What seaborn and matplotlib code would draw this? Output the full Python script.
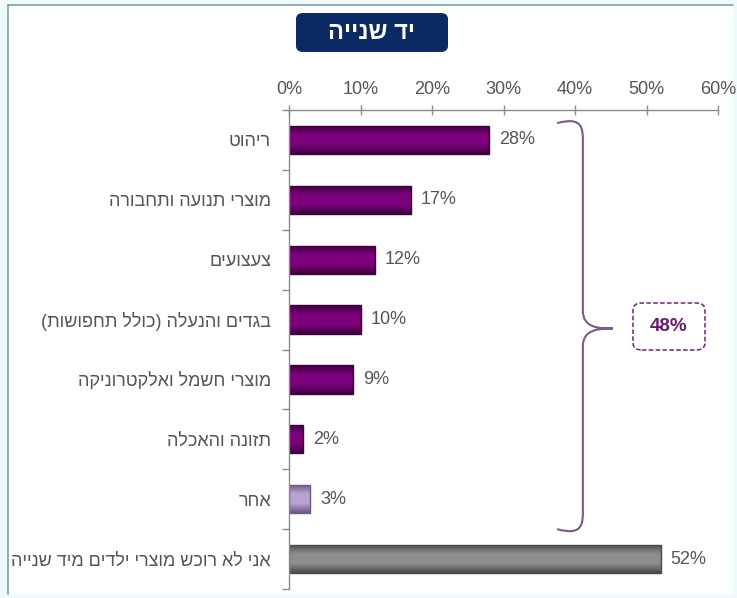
import numpy as np
import pandas as pd
import matplotlib
matplotlib.use("Agg")
import matplotlib.pyplot as plt
import seaborn as sns
from matplotlib.patches import FancyBboxPatch, Rectangle, PathPatch
from matplotlib.path import Path
from matplotlib.lines import Line2D
from matplotlib.colors import LinearSegmentedColormap

# --- data -------------------------------------------------------------
title = "יד שנייה"
categories = [
    "ריהוט",
    "מוצרי תנועה ותחבורה",
    "צעצועים",
    "בגדים והנעלה (כולל תחפושות)",
    "מוצרי חשמל ואלקטרוניקה",
    "תזונה והאכלה",
    "אחר",
    "אני לא רוכש מוצרי ילדים מיד שנייה",
]
values = [28, 17, 12, 10, 9, 2, 3, 52]
x_ticks = [0, 10, 20, 30, 40, 50, 60]
buyers_share = 100 - values[-1]   # everyone who does buy second-hand

# --- styling ----------------------------------------------------------
sns.set_theme(style="white")
plt.rcParams["font.family"] = ["Liberation Sans", "DejaVu Sans"]

PURPLE = ("#3e003e", "#7c007c")
LAVENDER = ("#6f5688", "#b9a3d3")
GREY = ("#4a4a4a", "#8e8e8e")
bar_styles = [PURPLE] * 6 + [LAVENDER, GREY]
TXT = "#555555"


def visual(s):
    """Hebrew is right-to-left: reverse for left-to-right rendering."""
    mirror = {"(": ")", ")": "("}
    return "".join(mirror.get(c, c) for c in reversed(s))


W, H = 737, 598
fig = plt.figure(figsize=(W / 100, H / 100), dpi=100, facecolor="#eefafc")

# page frame
fig.patches.append(Rectangle((8 / W, 1 - 594 / H), (733 - 8) / W, (594 - 5) / H,
                             transform=fig.transFigure, facecolor="white",
                             edgecolor="none", zorder=-10))
fig.lines.append(Line2D([8 / W, 733 / W], [1 - 5 / H] * 2, transform=fig.transFigure,
                        color="#7f9fae", lw=1.2, zorder=-9))
fig.lines.append(Line2D([8 / W] * 2, [1 - 5 / H, 1 - 594 / H], transform=fig.transFigure,
                        color="#7f9fae", lw=1.2, zorder=-9))

ax_l, ax_r, ax_t, ax_b = 289, 718, 110, 589
ax = fig.add_axes([ax_l / W, 1 - ax_b / H, (ax_r - ax_l) / W, (ax_b - ax_t) / H])
ax.set_facecolor("none")

df = pd.DataFrame({"category": [visual(c) for c in categories], "value": values})
sns.barplot(data=df, y="category", x="value", orient="h", ax=ax,
            width=0.47, color=PURPLE[1], saturation=1)

# shaded (cylinder-like) fills, clipped to each bar
for patch, (dark, light) in zip(list(ax.patches), bar_styles):
    cmap = LinearSegmentedColormap.from_list("b", [dark, light, light, dark])
    x0, y0 = patch.get_x(), patch.get_y()
    w, h = patch.get_width(), patch.get_height()
    grad = np.linspace(0, 1, 64).reshape(-1, 1)
    im = ax.imshow(grad, cmap=cmap, aspect="auto", extent=[x0, x0 + w, y0 + h, y0],
                   zorder=patch.get_zorder() + 0.1, interpolation="bilinear")
    im.set_clip_path(patch)
    patch.set_facecolor("none")
    patch.set_edgecolor(dark)
    patch.set_linewidth(1.0)
    patch.set_zorder(patch.get_zorder() + 0.2)

# value labels
for i, v in enumerate(values):
    ax.text(v + 1.4, i, f"{v}%", va="center", ha="left", fontsize=13, color=TXT)

ax.set_xlim(0, 60)
ax.set_ylim(7.5, -0.5)
ax.set_xlabel("")
ax.set_ylabel("")

# x axis on top
ax.xaxis.tick_top()
ax.set_xticks(x_ticks)
ax.set_xticklabels([f"{t}%" for t in x_ticks], fontsize=13, color=TXT)
ax.tick_params(axis="x", which="major", direction="inout", length=7, width=1,
               color="#8c8c8c", pad=5, top=True, bottom=False)

# category labels, ticks between categories
ax.set_yticks(range(len(categories)))
ax.set_yticklabels(df["category"], fontsize=13, color=TXT)
ax.tick_params(axis="y", which="major", length=0, pad=13)
ax.set_yticks(np.arange(-0.5, len(categories)), minor=True)
ax.tick_params(axis="y", which="minor", direction="out", length=5, width=1,
               color="#8c8c8c", left=True)

for side in ["right", "bottom"]:
    ax.spines[side].set_visible(False)
for side in ["top", "left"]:
    ax.spines[side].set_color("#8c8c8c")
    ax.spines[side].set_linewidth(1)

# curly brace grouping the second-hand buyers
xb, xh, xt = 41.1, 37.5, 45.3
yt, yb, ym = -0.28, 6.5, 3.15
verts = [
    (xh, yt), (xb, yt - 0.12), (xb, yt + 0.1), (xb, yt + 0.3),
    (xb, ym - 0.3),
    (xb, ym - 0.02), (xt - 2.2, ym), (xt, ym),
    (xt - 2.2, ym), (xb, ym + 0.02), (xb, ym + 0.3),
    (xb, yb - 0.3),
    (xb, yb - 0.1), (xb, yb + 0.12), (xh, yb),
]
codes = [Path.MOVETO, Path.CURVE4, Path.CURVE4, Path.CURVE4,
         Path.LINETO,
         Path.CURVE4, Path.CURVE4, Path.CURVE4,
         Path.CURVE4, Path.CURVE4, Path.CURVE4,
         Path.LINETO,
         Path.CURVE4, Path.CURVE4, Path.CURVE4]
ax.add_patch(PathPatch(Path(verts, codes), facecolor="none", edgecolor="#7d5a8c",
                       lw=1.5, clip_on=False, zorder=5))

# share of buyers box
bx0, by0, bw, bh = 633, 303, 72, 47
fig.patches.append(FancyBboxPatch((bx0 / W, 1 - (by0 + bh) / H), bw / W, bh / H,
                                  boxstyle="round,pad=0,rounding_size=0.012",
                                  transform=fig.transFigure, facecolor="white",
                                  edgecolor="#6a2a6a", lw=1.1, linestyle=(0, (3, 1.5)),
                                  zorder=6))
fig.text((bx0 + bw / 2) / W, 1 - (by0 + bh / 2) / H, f"{buyers_share}%",
         ha="center", va="center", fontsize=13.5, fontweight="bold",
         color="#6a1a6a", zorder=7)

# title badge
tx0, ty0, tw, th = 296, 13, 152, 39
fig.patches.append(FancyBboxPatch((tx0 / W, 1 - (ty0 + th) / H), tw / W, th / H,
                                  boxstyle="round,pad=0,rounding_size=0.01",
                                  transform=fig.transFigure, facecolor="#0b2a63",
                                  edgecolor="none", zorder=6))
fig.text((tx0 + tw / 2) / W, 1 - (ty0 + th / 2) / H, visual(title),
         ha="center", va="center", fontsize=17, fontweight="bold",
         color="white", zorder=7)

fig.savefig("out.png", dpi=100, facecolor=fig.get_facecolor())
